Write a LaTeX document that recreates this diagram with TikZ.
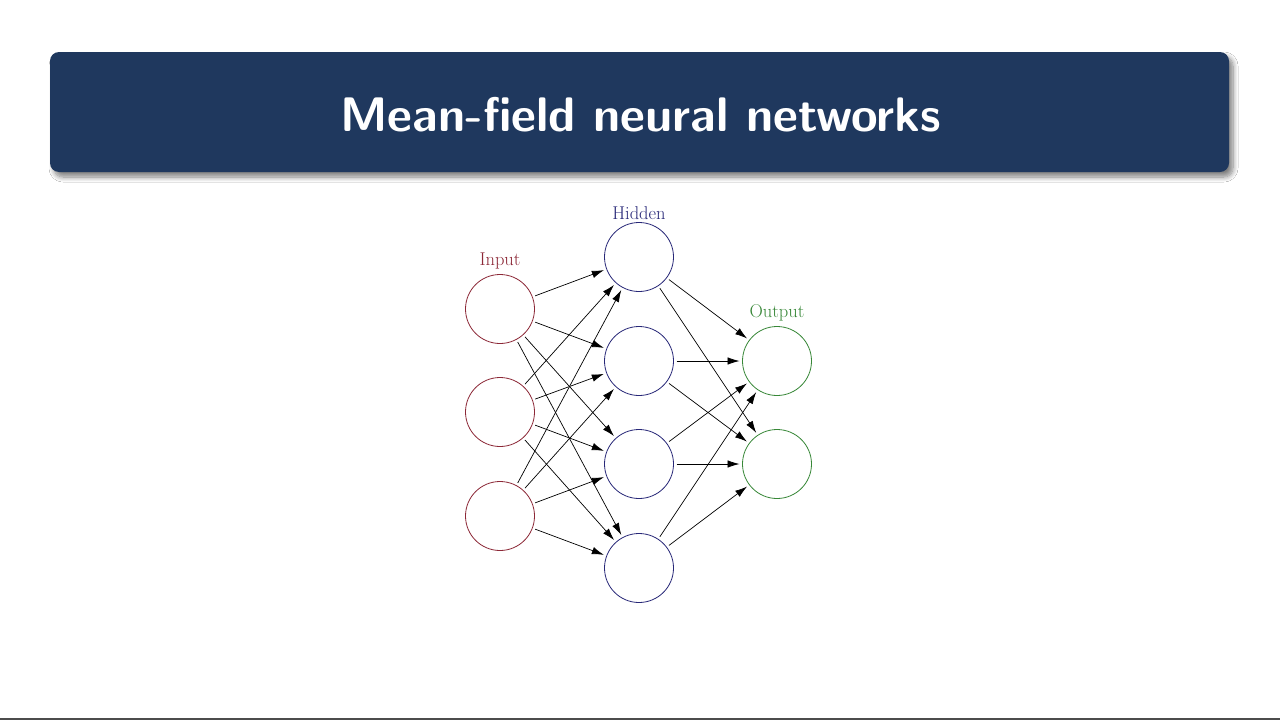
\documentclass[tikz,border=0pt]{standalone}
\usepackage{fontspec}
\usetikzlibrary{arrows.meta,shadows.blur}
\definecolor{titlebg}{RGB}{31,56,94}
\definecolor{inred}{RGB}{140,40,55}
\definecolor{hidblue}{RGB}{40,40,120}
\definecolor{outgreen}{RGB}{55,135,55}
\begin{document}
\begin{tikzpicture}[x=1pt,y=-1pt,
  neuron/.style={circle,draw,minimum size=69pt,inner sep=0pt,line width=0.8pt,outer sep=3pt},
  lab/.style={font=\fontsize{18.5}{20}\selectfont},
  edge/.style={line width=0.7pt,-{Latex[length=12pt,width=7.5pt]}},
  titlebox/.style={rectangle,rounded corners=9pt,fill=titlebg,minimum width=1179pt,minimum height=120pt,
    blur shadow={shadow xshift=4pt,shadow yshift=-5pt,shadow blur steps=8,shadow blur radius=5pt,shadow opacity=50}},
  titletext/.style={text=white,font=\sffamily\bfseries\fontsize{48.5}{56}\selectfont}]
\useasboundingbox (0,0) rectangle (1280,720);
\fill[white] (0,0) rectangle (1280,720);
\fill[black!70] (0,717.5) rectangle (1280,720);
\node[titlebox] (title) at (639.5,112) {};
\node[titletext] (titlelabel) at (640.5,115) {Mean-field neural networks};
\foreach \i/\y in {1/309,2/412,3/516} \node[neuron,draw=inred] (i\i) at (500,\y) {};
\foreach \j/\y in {1/257,2/361,3/464,4/568} \node[neuron,draw=hidblue] (h\j) at (639,\y) {};
\foreach \k/\y in {1/361,2/464} \node[neuron,draw=outgreen] (o\k) at (777,\y) {};
\node[lab,text=inred] (linput) at (500,261) {Input};
\node[lab,text=hidblue] (lhidden) at (639,213) {Hidden};
\node[lab,text=outgreen] (loutput) at (777,313) {Output};
\foreach \i in {1,2,3} \foreach \j in {1,2,3,4} \draw[edge] (i\i) -- (h\j);
\foreach \j in {1,2,3,4} \foreach \k in {1,2} \draw[edge] (h\j) -- (o\k);
\end{tikzpicture}
\end{document}
